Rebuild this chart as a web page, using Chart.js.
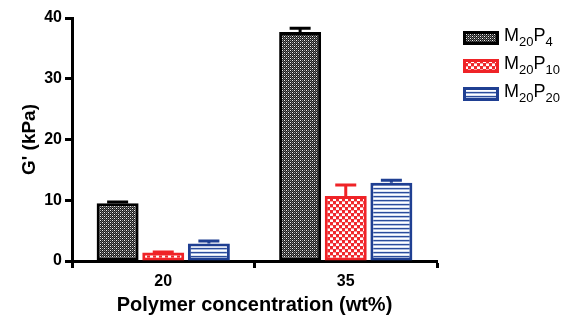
<!DOCTYPE html>
<html>
<head>
<meta charset="utf-8">
<script src="https://cdn.jsdelivr.net/npm/chart.js@4/dist/chart.umd.min.js"></script>
<style>
html,body{margin:0;padding:0;background:#fff;}
#wrap{width:569px;height:320px;position:relative;}
</style>
</head>
<body>
<div id="wrap"><canvas id="c"></canvas></div>
<script>
const categories = ['20', '35'];
const seriesNames = [['M', '20', 'P', '4'], ['M', '20', 'P', '10'], ['M', '20', 'P', '20']];
const m20p4 = [9.5, 37.7];
const m20p4Err = [0.2, 0.6];
const m20p10 = [1.4, 10.7];
const m20p10Err = [0.1, 1.8];
const m20p20 = [2.9, 12.9];
const m20p20Err = [0.4, 0.4];
const yTicks = [0, 10, 20, 30, 40];

function makePattern(kind) {
  const c = document.createElement('canvas');
  const x = c.getContext('2d');
  if (kind === 'black') {
    c.width = 4; c.height = 4;
    const K = '#1c1c1c', W = '#f4f4f4', G = '#9a9a9a', D = '#555555';
    const rows = [[W, K, G, K], [K, D, K, D], [G, K, W, K], [K, D, K, D]];
    for (let r = 0; r < 4; r++) for (let s = 0; s < 4; s++) { x.fillStyle = rows[r][s]; x.fillRect(s, r, 1, 1); }
  } else if (kind === 'red') {
    c.width = 6; c.height = 6;
    x.fillStyle = '#ffffff'; x.fillRect(0, 0, 6, 6);
    x.fillStyle = '#f0282c'; x.fillRect(0, 0, 3, 3); x.fillRect(3, 3, 3, 3);
    x.fillStyle = '#f7a0a2'; x.fillRect(3, 0, 3, 1); x.fillRect(0, 3, 3, 1);
  } else {
    c.width = 4; c.height = 4;
    const rows = ['#2b4c9b', '#a9bbe0', '#ffffff', '#dde5f4'];
    for (let r = 0; r < 4; r++) { x.fillStyle = rows[r]; x.fillRect(0, r, 4, 1); }
  }
  return x.createPattern(c, 'repeat');
}

const borderCols = ['#000000', '#ef2327', '#1f3f92'];
const patterns = [makePattern('black'), makePattern('red'), makePattern('blue')];
const errs = [m20p4Err, m20p10Err, m20p20Err];

const errorBars = {
  id: 'errorBars',
  afterDatasetsDraw(chart) {
    const ctx = chart.ctx;
    const ys = chart.scales.y;
    chart.data.datasets.forEach((ds, i) => {
      const meta = chart.getDatasetMeta(i);
      meta.data.forEach((el, j) => {
        const v = ds.data[j];
        const e = errs[i][j];
        const yTop = ys.getPixelForValue(v + e);
        const yv = ys.getPixelForValue(v);
        ctx.save();
        ctx.strokeStyle = borderCols[i];
        ctx.lineWidth = 3;
        ctx.beginPath();
        ctx.moveTo(el.x, yv);
        ctx.lineTo(el.x, yTop);
        ctx.moveTo(el.x - 10.5, yTop);
        ctx.lineTo(el.x + 10.5, yTop);
        ctx.stroke();
        ctx.restore();
      });
    });
  }
};

const customLegend = {
  id: 'customLegend',
  afterDraw(chart) {
    const ctx = chart.ctx;
    const bx = chart.chartArea.right + 26;
    const centers = [38, 66, 94];
    seriesNames.forEach((parts, i) => {
      const cy = centers[i];
      ctx.save();
      ctx.fillStyle = borderCols[i];
      ctx.fillRect(bx, cy - 7, 36, 14);
      ctx.fillStyle = patterns[i];
      ctx.fillRect(bx + 3, cy - 4, 30, 8);
      ctx.fillStyle = '#000';
      ctx.textBaseline = 'alphabetic';
      let tx = bx + 41;
      const base = cy + 3;
      parts.forEach((p, k) => {
        if (k % 2 === 0) {
          ctx.font = '18px "Liberation Sans", Arial, sans-serif';
          ctx.fillText(p, tx, base);
        } else {
          ctx.font = '13px "Liberation Sans", Arial, sans-serif';
          ctx.fillText(p, tx, base + 5);
        }
        tx += ctx.measureText(p).width;
      });
      ctx.restore();
    });
  }
};

const makeDs = (i, data) => ({
  label: seriesNames[i].join(''),
  data: data,
  backgroundColor: patterns[i],
  borderColor: borderCols[i],
  borderWidth: 3,
  borderSkipped: false,
  barPercentage: 0.92,
  categoryPercentage: 0.75
});

new Chart(document.getElementById('c'), {
  type: 'bar',
  data: {
    labels: categories,
    datasets: [makeDs(0, m20p4), makeDs(1, m20p10), makeDs(2, m20p20)]
  },
  options: {
    responsive: true,
    maintainAspectRatio: false,
    animation: false,
    layout: { padding: { left: 0, right: 132, top: 18, bottom: 0 } },
    plugins: { legend: { display: false }, tooltip: { enabled: false } },
    scales: {
      x: {
        grid: { display: true, drawOnChartArea: false, drawTicks: true, tickLength: 7, tickWidth: 3, tickColor: '#000', offset: true },
        border: { display: true, color: '#000', width: 3 },
        ticks: { color: '#000', padding: 4, font: { family: '"Liberation Sans", Arial, sans-serif', size: 16, weight: 'bold' } },
        title: { display: true, text: 'Polymer concentration (wt%)', color: '#000', padding: { top: 0, bottom: 3 }, font: { family: '"Liberation Sans", Arial, sans-serif', size: 20, weight: 'bold' } },
        afterFit(s) { s.height = 59; }
      },
      y: {
        min: 0, max: 40,
        afterBuildTicks(s) { s.ticks = yTicks.map(v => ({ value: v })); },
        grid: { display: true, drawOnChartArea: false, drawTicks: true, tickLength: 7, tickWidth: 3, tickColor: '#000' },
        border: { display: true, color: '#000', width: 3 },
        ticks: { color: '#000', padding: 3, font: { family: '"Liberation Sans", Arial, sans-serif', size: 16, weight: 'bold' } },
        title: { display: true, text: "G' (kPa)", color: '#000', padding: { top: 18, bottom: 0 }, font: { family: '"Liberation Sans", Arial, sans-serif', size: 19, weight: 'bold' } },
        afterFit(s) { s.width = 72; }
      }
    }
  },
  plugins: [errorBars, customLegend]
});
</script>
</body>
</html>
